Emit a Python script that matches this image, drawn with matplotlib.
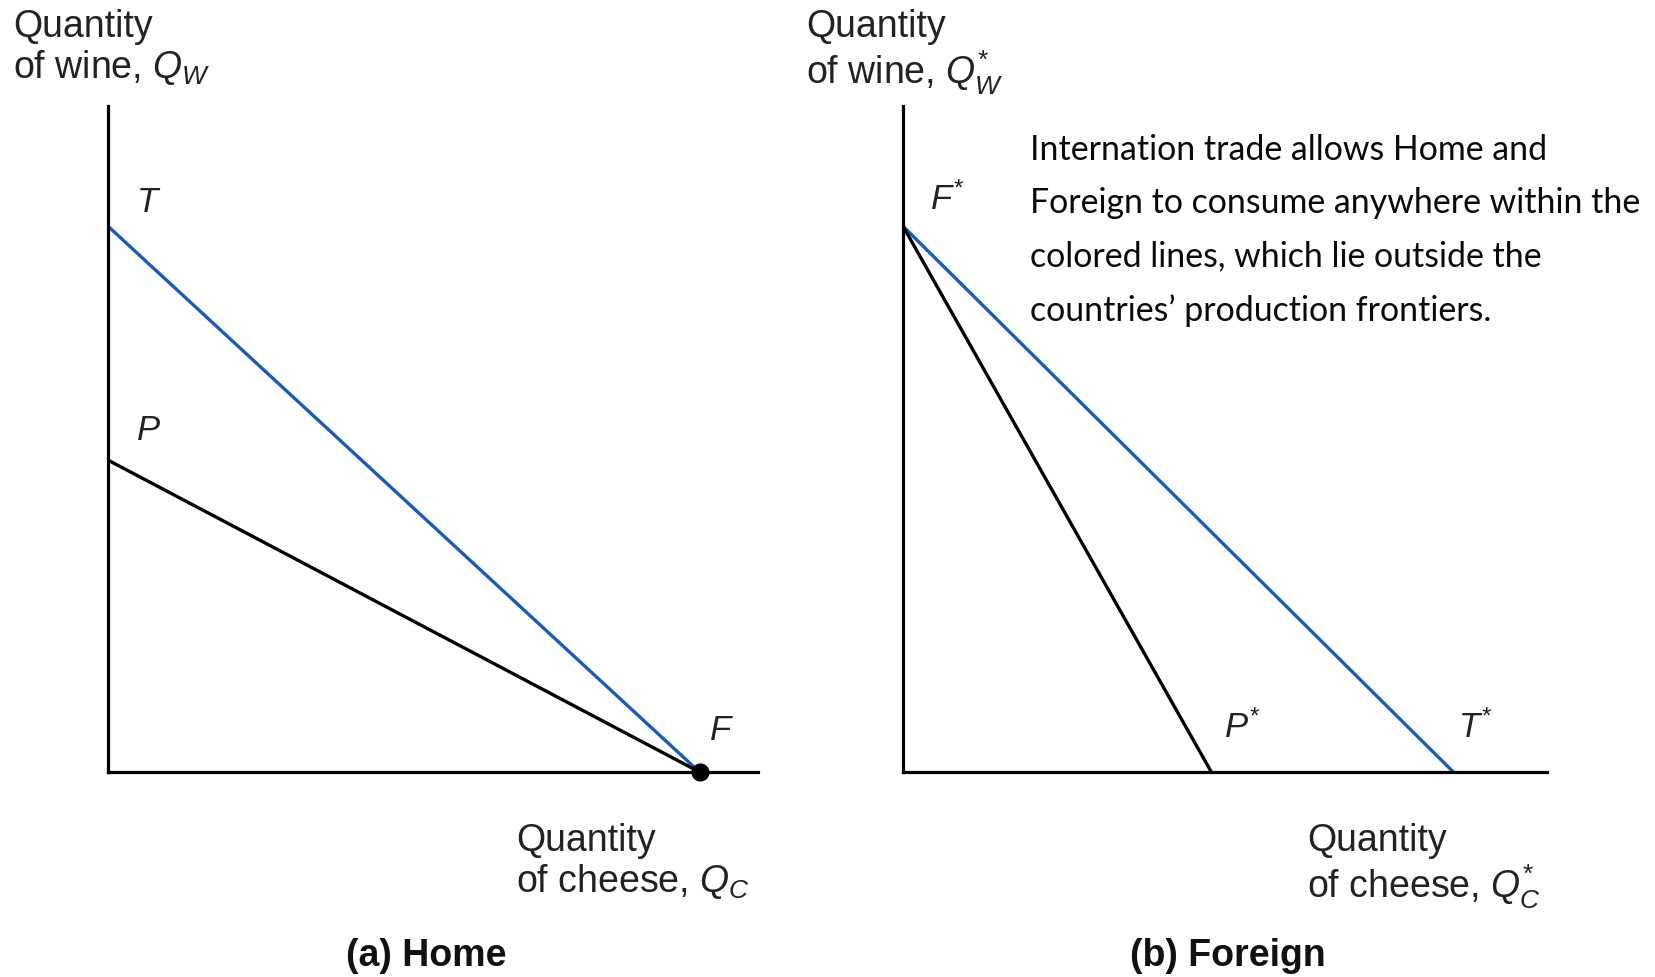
import matplotlib
matplotlib.use("Agg")
import matplotlib.pyplot as plt

plt.rcParams['font.family'] = 'Liberation Sans'
plt.rcParams['mathtext.fontset'] = 'custom'
plt.rcParams['mathtext.rm'] = 'Liberation Sans'
plt.rcParams['mathtext.it'] = 'Liberation Sans:italic'
plt.rcParams['mathtext.sf'] = 'Liberation Sans'

# Home: production frontier P-F, trade line T-F (wine on y, cheese on x)
home_wine_P = 4.8
home_wine_T = 8.4
home_cheese_F = 9.1

# Foreign: production frontier F*-P*, trade line F*-T*
foreign_wine_F = 8.4
foreign_cheese_P = 4.74
foreign_cheese_T = 8.46

blue = "#1c5bb4"
W, H = 1656, 977

fig = plt.figure(figsize=(W / 100, H / 100), dpi=100)
ax1 = fig.add_axes([108 / W, 1 - 772 / H, 650 / W, 666 / H])
ax2 = fig.add_axes([903 / W, 1 - 772 / H, 644 / W, 666 / H])

for ax, xmax in [(ax1, 10.0), (ax2, 9.9)]:
    ax.set_xlim(0, xmax)
    ax.set_ylim(0, 10.25)
    ax.spines['top'].set_visible(False)
    ax.spines['right'].set_visible(False)
    ax.spines['left'].set_linewidth(2.3)
    ax.spines['bottom'].set_linewidth(2.3)
    ax.set_xticks([])
    ax.set_yticks([])
    ax.patch.set_alpha(0)

# (a) Home
ax1.plot([0, home_cheese_F], [home_wine_T, 0], color=blue, lw=2.4, solid_capstyle='butt')
ax1.plot([0, home_cheese_F], [home_wine_P, 0], color='black', lw=2.4, solid_capstyle='butt')
ax1.plot([home_cheese_F], [0], 'o', color='black', ms=12, clip_on=False, zorder=5)

lab = dict(textcoords='offset points', fontsize=25, color='#222222', ha='center', va='center')
ax1.annotate('$T$', (0, home_wine_T), xytext=(29, 17), **lab)
ax1.annotate('$P$', (0, home_wine_P), xytext=(29, 21), **lab)
ax1.annotate('$F$', (home_cheese_F, 0), xytext=(16, 30), **lab)

# (b) Foreign
ax2.plot([0, foreign_cheese_T], [foreign_wine_F, 0], color=blue, lw=2.4, solid_capstyle='butt')
ax2.plot([0, foreign_cheese_P], [foreign_wine_F, 0], color='black', lw=2.4, solid_capstyle='butt')
ax2.annotate('$F^{*}$', (0, foreign_wine_F), xytext=(32, 19), **lab)
ax2.annotate('$P^{*}$', (foreign_cheese_P, 0), xytext=(22, 32), **lab)
ax2.annotate('$T^{*}$', (foreign_cheese_T, 0), xytext=(16, 32), **lab)

# axis titles
tkw = dict(fontsize=27, color='#222222', ha='left', va='top', linespacing=1.1)
fig.text(13 / W, 1 - 9 / H, 'Quantity\nof wine, $Q_W$', **tkw)
fig.text(806 / W, 1 - 9 / H, 'Quantity\nof wine, $Q^{*}_{W}$', **tkw)
fig.text(516 / W, 1 - 823 / H, 'Quantity\nof cheese, $Q_C$', **tkw)
fig.text(1307 / W, 1 - 823 / H, 'Quantity\nof cheese, $Q^{*}_{C}$', **tkw)

fig.text(1030 / W, 1 - 134 / H,
         "Internation trade allows Home and\n"
         "Foreign to consume anywhere within the\n"
         "colored lines, which lie outside the\n"
         "countries\u2019 production frontiers.",
         family='Lato', fontsize=24.4, color='#0a0a0a', ha='left', va='top', linespacing=1.81)

fig.text(426 / W, 1 - 956 / H, '(a) Home', fontsize=27, weight='bold', ha='center', va='center', color='#111111')
fig.text(1228 / W, 1 - 956 / H, '(b) Foreign', fontsize=27, weight='bold', ha='center', va='center', color='#111111')

fig.savefig('out.png', dpi=100, facecolor='white')
